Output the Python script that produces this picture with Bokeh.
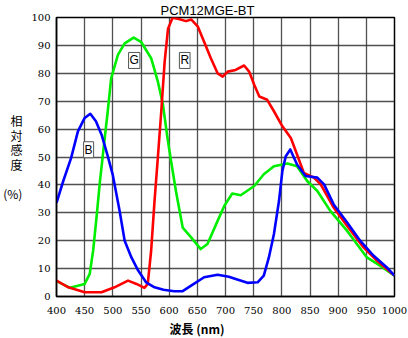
from bokeh.plotting import figure
from bokeh.models import Label, FixedTicker, Title
from bokeh.embed import file_html
from bokeh.resources import INLINE

# --- data ---
wl_b = [400, 412, 426, 438, 450, 460, 470, 480, 490, 500, 512, 521, 533, 545, 559, 574, 590, 609, 624, 639,
        662, 686, 706, 718, 739, 757, 768, 777, 786, 795, 801, 807, 815, 827, 842, 863, 875, 892, 916, 939,
        963, 986, 1000]
val_b = [33.6, 41.4, 49.7, 59.2, 64.0, 65.5, 62.8, 58.0, 51.0, 43.5, 30.7, 20.0, 14.0, 9.3, 5.1, 3.3, 2.4, 1.9,
         1.9, 3.9, 6.9, 7.8, 7.1, 6.3, 4.9, 5.1, 7.5, 14.0, 22.4, 34.3, 45.0, 50.3, 52.7, 47.3, 43.2, 42.6, 40.2,
         33.0, 26.5, 20.0, 14.6, 10.5, 7.5]

wl_g = [400, 424, 450, 459, 465, 471, 477, 485, 491, 497, 509, 521, 537, 550, 568, 580, 589, 597, 603, 612,
        624, 639, 656, 668, 686, 698, 712, 727, 751, 768, 786, 810, 827, 845, 863, 886, 916, 951, 975, 1000]
val_g = [5.5, 3.1, 4.5, 8.1, 16.4, 28.3, 41.0, 55.7, 66.4, 78.2, 86.6, 90.7, 92.8, 91.3, 85.4, 77.0, 68.7, 56.8,
         49.0, 37.8, 24.7, 21.2, 17.0, 18.8, 27.1, 32.5, 36.9, 36.3, 39.6, 43.8, 46.7, 47.7, 46.7, 41.4, 37.8,
         30.7, 23.5, 14.0, 11.0, 7.5]

wl_r = [400, 421, 450, 480, 503, 527, 542, 556, 562, 568, 574, 580, 586, 592, 598, 606, 617, 630, 639, 651,
        662, 674, 686, 695, 704, 718, 733, 742, 751, 760, 774, 786, 801, 816, 827, 839, 857, 869, 892, 916,
        945, 969, 1000]
val_r = [5.7, 3.3, 1.5, 1.5, 3.3, 5.7, 4.5, 3.1, 4.5, 16.4, 34.2, 50.0, 66.4, 84.2, 96.0, 99.9, 99.5, 98.7, 99.3,
         96.7, 91.3, 85.4, 80.0, 78.8, 80.6, 81.2, 82.8, 80.6, 75.9, 71.7, 70.5, 66.4, 61.0, 56.8, 50.9, 44.3,
         42.6, 40.2, 31.9, 25.3, 17.6, 12.8, 7.5]

x_ticks = list(range(400, 1001, 50))
y_ticks = list(range(0, 101, 10))
title_text = "PCM12MGE-BT"
x_title = "波長 (nm)"
y_title = "相\n対\n感\n度\n\n(%)"

p = figure(width=408, height=338, x_range=(400, 1000), y_range=(0, 100),
           output_backend="svg", toolbar_location=None,
           min_border_left=55, min_border_right=14, min_border_top=16, min_border_bottom=42)

p.background_fill_color = "white"
p.border_fill_color = "white"
p.outline_line_color = "black"
p.outline_line_width = 1.5

for ax in (p.xaxis[0], p.yaxis[0]):
    ax.major_tick_in = 0
    ax.major_tick_out = 0
    ax.minor_tick_in = 0
    ax.minor_tick_out = 0
    ax.axis_line_color = "black"
    ax.axis_line_width = 1.5
    ax.major_label_text_font = "DejaVu Serif"
    ax.major_label_text_font_size = "10px"
    ax.major_label_text_color = "black"

p.xaxis.ticker = FixedTicker(ticks=x_ticks)
p.yaxis.ticker = FixedTicker(ticks=y_ticks)
p.xaxis.major_label_standoff = 10
p.yaxis.major_label_standoff = 6

# y axis title: stacked upright characters
p.yaxis.axis_label = y_title
p.yaxis.axis_label_orientation = "horizontal"
p.yaxis.axis_label_text_font = "Noto Sans CJK JP"
p.yaxis.axis_label_text_font_size = "12px"
p.yaxis.axis_label_text_font_style = "normal"
p.yaxis.axis_label_text_line_height = 0.86
p.yaxis.axis_label_standoff = 6
p.yaxis.axis_label_text_color = "black"

p.xgrid.ticker = FixedTicker(ticks=x_ticks)
p.ygrid.ticker = FixedTicker(ticks=y_ticks)
for g in (p.xgrid[0], p.ygrid[0]):
    g.grid_line_color = "#333333"
    g.grid_line_alpha = 0.85
    g.grid_line_width = 1.3

p.line(wl_g, val_g, line_color="#00ee00", line_width=2.6, line_join="round")
p.line(wl_r, val_r, line_color="#ff0000", line_width=2.6, line_join="round")
p.line(wl_b, val_b, line_color="#0000ff", line_width=2.6, line_join="round")

# boxed series labels
for txt, xx, yy in (("G", 538, 84.6), ("R", 627.6, 84.6), ("B", 457, 52.6)):
    p.add_layout(Label(x=xx, y=yy, text=txt, text_align="center", text_baseline="middle",
                       text_font="Liberation Sans", text_font_size="12px", text_color="black",
                       border_line_color="#555555", border_line_width=1,
                       background_fill_color="white", padding=1))

# chart title
p.add_layout(Title(text=title_text, align="left", offset=104, standoff=0,
                   text_font="Liberation Sans", text_font_size="13px", text_font_style="normal",
                   text_color="black"), "above")

# x axis title
p.add_layout(Title(text=x_title, align="left", offset=113, standoff=3,
                   text_font="Noto Sans CJK JP", text_font_size="12px", text_font_style="bold",
                   text_color="black"), "below")

open("out.html", "w").write(file_html(p, INLINE))
